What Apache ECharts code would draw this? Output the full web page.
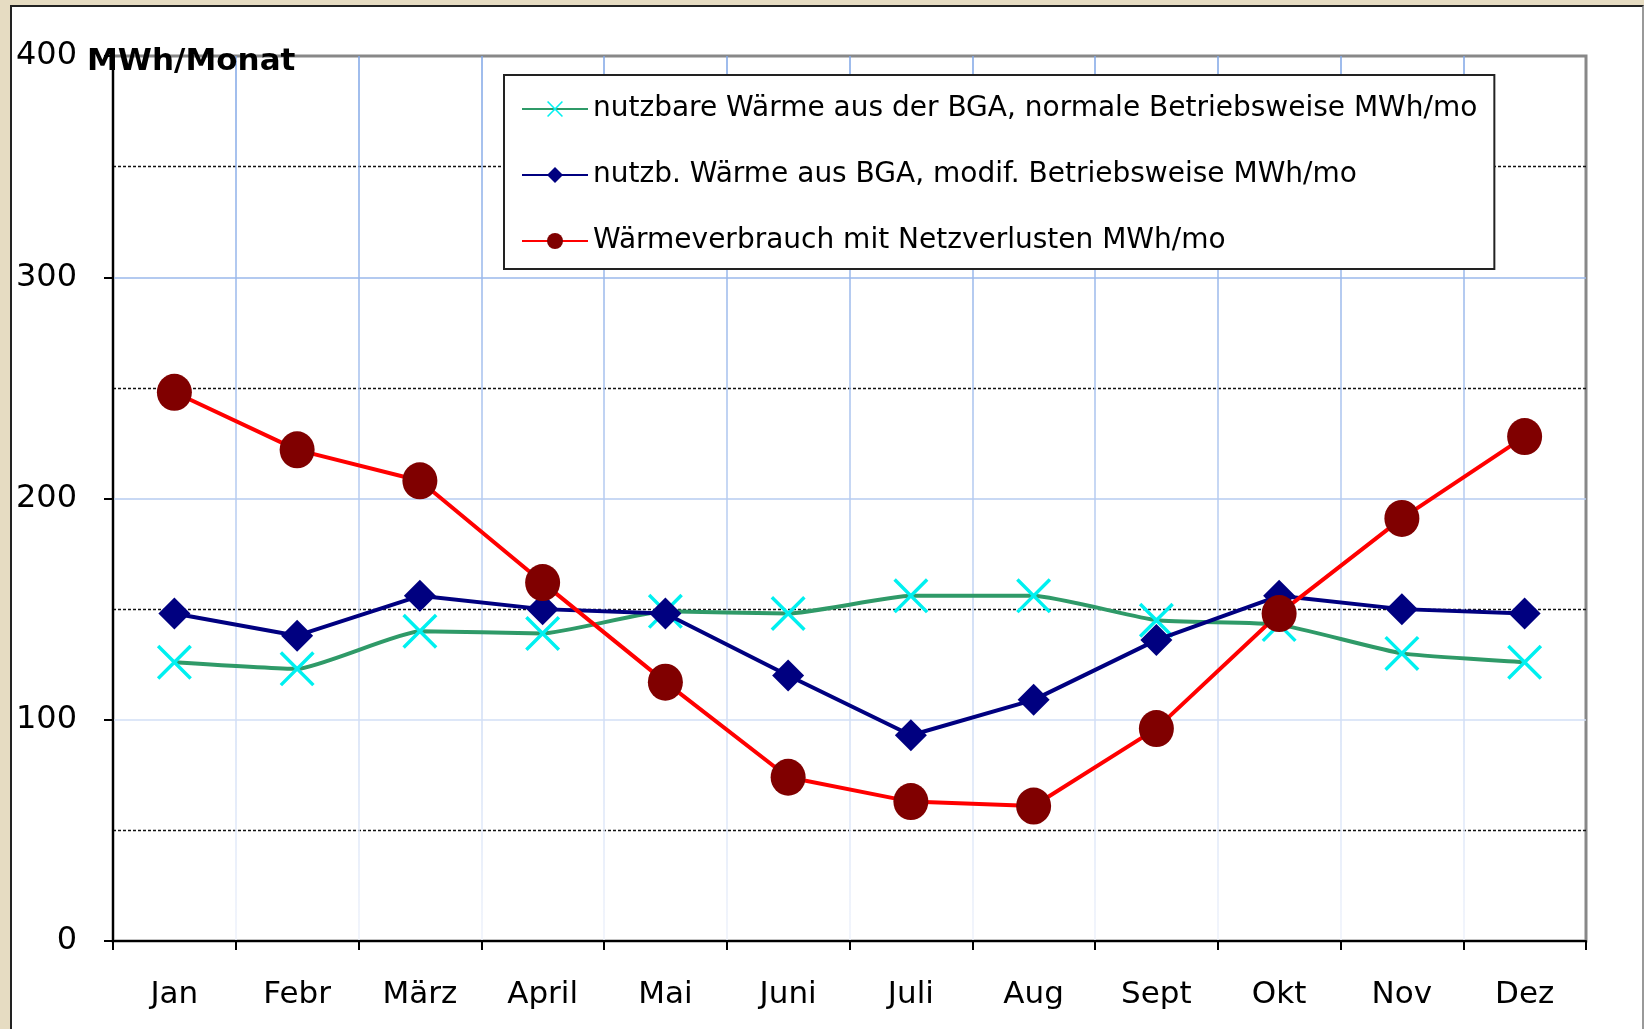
<!DOCTYPE html>
<html><head><meta charset="utf-8">
<script src="https://cdn.jsdelivr.net/npm/echarts@6/dist/echarts.min.js"></script>
<style>
html,body{margin:0;padding:0;background:#e6dcc2;overflow:hidden;width:1644px;height:1029px;}
#panel{position:absolute;left:10px;top:5px;width:1630px;height:1100px;background:#fff;border-left:2px solid #222;border-top:2px solid #222;border-right:2px solid #999;}
#chart{position:absolute;left:0;top:0;width:1644px;height:1029px;}
</style></head><body>
<div id="panel"></div><div id="chart"></div>
<script>
const months = ['Jan','Febr','März','April','Mai','Juni','Juli','Aug','Sept','Okt','Nov','Dez'];
const normalBGA = [126,123,140,139,149,148,156,156,145,143,130,126];
const modifBGA = [148,138,156,150,148,120,93,109,136,156,150,148];
const verbrauch = [248,222,208,162,117,74,63,61,96,148,191,228];
const seriesNames = [
  'nutzbare Wärme aus der BGA, normale Betriebsweise MWh/mo',
  'nutzb. Wärme aus BGA, modif. Betriebsweise MWh/mo',
  'Wärmeverbrauch mit Netzverlusten MWh/mo'
];
const yUnit = 'MWh/Monat';
const FONT = 'DejaVu Sans';
const crossPath = 'path://M0,0.7 L0.7,0 L10,9.3 L9.3,10 Z M9.3,0 L10,0.7 L0.7,10 L0,9.3 Z';

const chart = echarts.init(document.getElementById('chart'), null, {renderer:'canvas'});
const gridGrad = new echarts.graphic.LinearGradient(0, 56, 0, 941, [
  {offset:0, color:'#7ea5e6'},
  {offset:1, color:'#eef2fb'}
], true);

chart.setOption({
  backgroundColor: 'transparent',
  animation: false,
  title: {
    text: yUnit, left: 82, top: 41,
    textStyle: {fontFamily: FONT, fontSize: 31, fontWeight: 'bold', color: '#000'}
  },
  legend: {
    orient: 'vertical', left: 504, top: 75,
    padding: [19, 17, 13, 17], itemGap: 36, itemWidth: 66, itemHeight: 20,
    backgroundColor: '#fff', borderColor: '#222', borderWidth: 2,
    textStyle: {fontFamily: FONT, fontSize: 28, color: '#000', lineHeight: 30},
    data: seriesNames
  },
  grid: {
    left: 113, right: 58, top: 56, bottom: 88,
    show: true, borderColor: '#888', borderWidth: 3, backgroundColor: 'transparent'
  },
  xAxis: {
    type: 'category', data: months, boundaryGap: true,
    axisLine: {lineStyle: {color: '#000', width: 2}},
    axisTick: {show: true, length: 9, interval: 0, lineStyle: {color: '#000', width: 2}},
    axisLabel: {fontFamily: FONT, fontSize: 31, color: '#000', margin: 38, interval: 0},
    splitLine: {show: true, interval: 0, showMaxLine: false, lineStyle: {color: gridGrad, width: 1.5}}
  },
  yAxis: {
    type: 'value', min: 0, max: 400, interval: 100,
    axisLine: {show: true, lineStyle: {color: '#000', width: 2}},
    axisTick: {show: true, length: 9, lineStyle: {color: '#000', width: 2}},
    axisLabel: {fontFamily: FONT, fontSize: 32, color: '#000', margin: 36},
    splitLine: {show: true, showMaxLine: false, lineStyle: {color: gridGrad, width: 1.5}},
    minorTick: {show: false, splitNumber: 2},
    minorSplitLine: {show: true, lineStyle: {color: '#111', width: 1.3, type: [3, 2]}}
  },
  series: [
    {
      name: seriesNames[0], type: 'line', data: normalBGA, smooth: 0.15,
      symbol: crossPath, symbolSize: 35,
      lineStyle: {color: '#2f9a68', width: 4},
      itemStyle: {color: '#00f0f0'}, z: 2
    },
    {
      name: seriesNames[1], type: 'line', data: modifBGA,
      symbol: 'diamond', symbolSize: 32,
      lineStyle: {color: '#000080', width: 4},
      itemStyle: {color: '#000080'}, z: 3
    },
    {
      name: seriesNames[2], type: 'line', data: verbrauch,
      symbol: 'circle', symbolSize: [35, 37],
      lineStyle: {color: '#ff0000', width: 4},
      itemStyle: {color: '#800000'}, z: 4
    }
  ]
});
</script>
</body></html>
